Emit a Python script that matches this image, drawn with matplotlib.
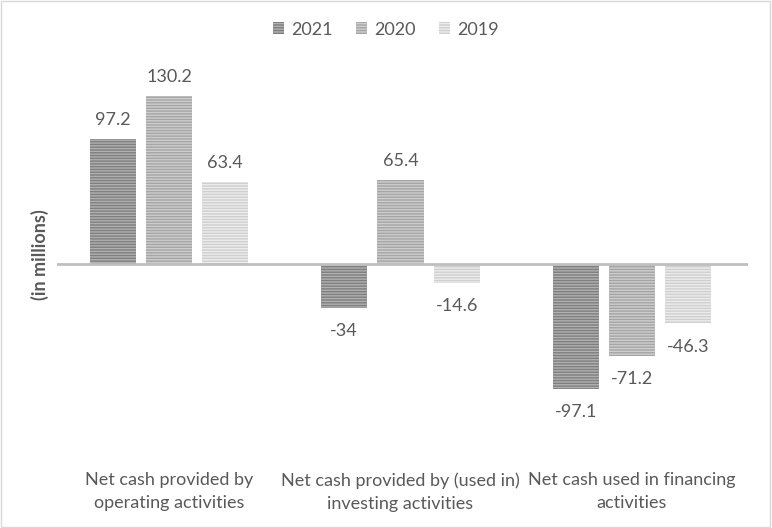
import numpy as np
import matplotlib.pyplot as plt
from matplotlib.patches import Rectangle

plt.rcParams['font.family'] = ['Lato', 'DejaVu Sans']
plt.rcParams['hatch.linewidth'] = 1.0

categories = ['Net cash provided by\noperating activities',
              'Net cash provided by (used in)\ninvesting activities',
              'Net cash used in financing\nactivities']
years = ['2021', '2020', '2019']
v2021 = [97.2, -34, -97.1]
v2020 = [130.2, 65.4, -71.2]
v2019 = [63.4, -14.6, -46.3]

faces = ['#7f7f7f', '#a5a5a5', '#cfcfcf']
lines = ['#b0b0b0', '#cdcdcd', '#ececec']
txt = '#595959'

fig = plt.figure(figsize=(7.72, 5.28), dpi=100)
ax = fig.add_axes([0.0738, 0.135, 0.895, 0.75])

x = np.arange(len(categories))
w = 0.2
offs = [-0.243, 0, 0.243]
for vals, yr, fc, lc, o in zip([v2021, v2020, v2019], years, faces, lines, offs):
    bars = ax.bar(x + o, vals, w, facecolor=fc, edgecolor=lc, linewidth=0,
                  hatch='------', label=yr)
    for b, v in zip(bars, vals):
        dy = 8 if v >= 0 else -11
        ax.annotate(f'{v:g}', (b.get_x() + b.get_width() / 2, v),
                    xytext=(0, dy), textcoords='offset points',
                    ha='center', va='bottom' if v >= 0 else 'top',
                    fontsize=13, color=txt)

ax.axhline(0, color='#bfbfbf', linewidth=2)
ax.set_xlim(-0.484, 2.501)
ax.set_ylim(-149.9, 158)
ax.set_xticks(x)
ax.set_xticklabels(categories, fontsize=13, color=txt, linespacing=1.55)
ax.tick_params(axis='x', length=0, pad=11)
ax.set_yticks([])
for s in ax.spines.values():
    s.set_visible(False)
ax.set_ylabel('(in millions)', fontsize=13, color=txt, fontweight='bold')
ax.yaxis.set_label_coords(-0.012, 0.51)

fig.legend(loc='upper center', bbox_to_anchor=(0.5, 0.99), ncol=3, frameon=False,
           fontsize=13, handlelength=0.6, handleheight=0.6, columnspacing=1.3,
           handletextpad=0.4, labelcolor=txt)

fig.patches.append(Rectangle((0.001, 0.001), 0.997, 0.997, transform=fig.transFigure,
                             fill=False, edgecolor='#d9d9d9', linewidth=1))

fig.savefig('out.png', dpi=100)
